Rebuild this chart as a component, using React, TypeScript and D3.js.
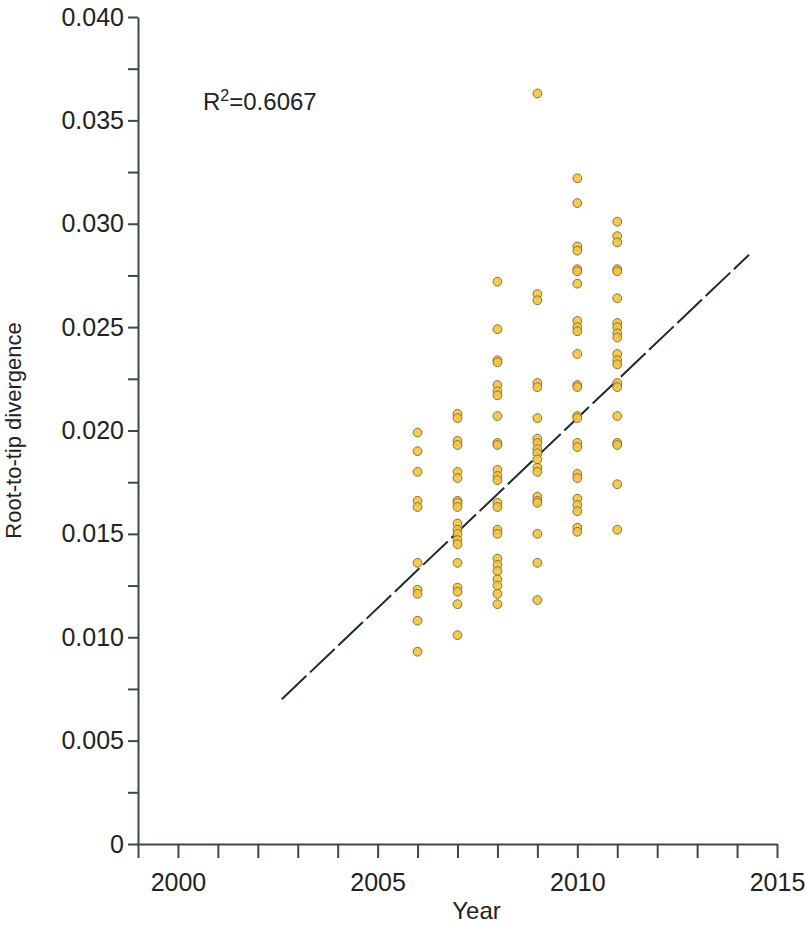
import React, { useEffect, useRef } from 'react';
import * as d3 from 'd3';

// sampling years and root-to-tip divergence
const years = [2006, 2007, 2008, 2009, 2010, 2011];

const div2006 = [0.0199, 0.0190, 0.0180, 0.0166, 0.0163, 0.0136, 0.0123, 0.0121, 0.0108, 0.0093];
const div2007 = [0.0208, 0.0206, 0.0195, 0.0193, 0.0180, 0.0177, 0.0166, 0.0165, 0.0163, 0.0155, 0.0152, 0.0150, 0.0147, 0.0145, 0.0136, 0.0124, 0.0122, 0.0116, 0.0101];
const div2008 = [0.0272, 0.0249, 0.0234, 0.0233, 0.0222, 0.0219, 0.0217, 0.0207, 0.0194, 0.0193, 0.0181, 0.0178, 0.0176, 0.0165, 0.0163, 0.0152, 0.0150, 0.0138, 0.0135, 0.0132, 0.0128, 0.0125, 0.0121, 0.0116];
const div2009 = [0.0363, 0.0266, 0.0263, 0.0223, 0.0221, 0.0206, 0.0196, 0.0194, 0.0191, 0.0189, 0.0186, 0.0182, 0.0180, 0.0168, 0.0166, 0.0165, 0.0150, 0.0136, 0.0118];
const div2010 = [0.0322, 0.0310, 0.0289, 0.0287, 0.0278, 0.0277, 0.0271, 0.0253, 0.0250, 0.0248, 0.0237, 0.0222, 0.0221, 0.0207, 0.0206, 0.0194, 0.0192, 0.0179, 0.0177, 0.0167, 0.0164, 0.0161, 0.0153, 0.0151];
const div2011 = [0.0301, 0.0294, 0.0291, 0.0278, 0.0277, 0.0264, 0.0252, 0.0250, 0.0247, 0.0245, 0.0237, 0.0234, 0.0232, 0.0223, 0.0221, 0.0207, 0.0194, 0.0193, 0.0174, 0.0152];

const divergenceByYear = [div2006, div2007, div2008, div2009, div2010, div2011];

// regression line end points
const fitYears = [2002.6, 2014.3];
const fitValues = [0.0070, 0.0285];

const yMajorTicks = [0, 0.005, 0.01, 0.015, 0.02, 0.025, 0.03, 0.035, 0.04];
const yMinorTicks = [0.0025, 0.0075, 0.0125, 0.0175, 0.0225, 0.0275, 0.0325, 0.0375];
const xTicks = d3.range(1999, 2016);
const xLabelled = [2000, 2005, 2010, 2015];

const rSquared = '0.6067';

const W = 806;
const H = 929;
const FONT = '"Liberation Sans", Arial, Helvetica, sans-serif';
const AXIS = '#3a4a4a';

export default function App() {
  const svgRef = useRef<SVGSVGElement>(null);

  useEffect(() => {
    document.body.style.margin = '0';
    const svg = d3.select(svgRef.current);
    svg.selectAll('*').remove();

    const x = d3.scaleLinear().domain([1999, 2015]).range([138, 777]);
    const y = d3.scaleLinear().domain([0, 0.04]).range([844, 17]);

    const fmtY = (d: number) => (d === 0 ? '0' : d3.format('.3f')(d));

    // Y axis
    const gy = svg.append('g')
      .attr('transform', `translate(${x(1999)},0)`)
      .call(d3.axisLeft(y)
        .tickValues([...yMajorTicks, ...yMinorTicks])
        .tickSize(10)
        .tickSizeOuter(0)
        .tickPadding(4)
        .tickFormat((d: any) => (yMajorTicks.includes(d) ? fmtY(d) : '')));

    // X axis
    const gx = svg.append('g')
      .attr('transform', `translate(0,${y(0)})`)
      .call(d3.axisBottom(x)
        .tickValues(xTicks)
        .tickSize(14)
        .tickSizeOuter(0)
        .tickPadding(15)
        .tickFormat((d: any) => (xLabelled.includes(d) ? String(d) : '')));

    [gx, gy].forEach(g => {
      g.select('.domain').attr('stroke', AXIS).attr('stroke-width', 2);
      g.selectAll('.tick line').attr('stroke', AXIS).attr('stroke-width', 2);
      g.selectAll('.tick text')
        .attr('fill', '#222')
        .style('font-family', FONT)
        .style('font-size', '25px');
    });

    // regression line
    const line = d3.line<number>()
      .x((d, i) => x(fitYears[i]))
      .y(d => y(d));

    svg.append('path')
      .datum(fitValues)
      .attr('fill', 'none')
      .attr('stroke', '#1e2b2b')
      .attr('stroke-width', 2)
      .attr('stroke-dasharray', '34,5')
      .attr('d', line);

    // points
    const points = years.flatMap((yr, i) => divergenceByYear[i].map(v => ({ yr, v })));
    svg.append('g')
      .selectAll('circle')
      .data(points)
      .enter().append('circle')
      .attr('cx', d => x(d.yr))
      .attr('cy', d => y(d.v))
      .attr('r', 4.4)
      .attr('fill', '#f3c445')
      .attr('fill-opacity', 0.9)
      .attr('stroke', '#857335')
      .attr('stroke-width', 1);

    // axis titles
    svg.append('text')
      .attr('x', (x(1999) + x(2015)) / 2 + 19)
      .attr('y', 919)
      .attr('text-anchor', 'middle')
      .style('font-family', FONT)
      .style('font-size', '24px')
      .attr('fill', '#222')
      .text('Year');

    svg.append('text')
      .attr('transform', `translate(21,${(y(0) + y(0.04)) / 2}) rotate(-90)`)
      .attr('text-anchor', 'middle')
      .style('font-family', FONT)
      .style('font-size', '22px')
      .attr('fill', '#222')
      .text('Root-to-tip divergence');

    // R squared annotation
    const r2 = svg.append('text')
      .attr('x', 203)
      .attr('y', 110)
      .style('font-family', FONT)
      .style('font-size', '24px')
      .attr('fill', '#222');
    r2.append('tspan').text('R');
    r2.append('tspan').attr('dy', -9).style('font-size', '16px').text('2');
    r2.append('tspan').attr('dy', 9).text(`=${rSquared}`);
  }, []);

  return (
    <div style={{ width: W, height: H, background: '#fff' }}>
      <svg ref={svgRef} width={W} height={H} style={{ display: 'block' }} />
    </div>
  );
}
